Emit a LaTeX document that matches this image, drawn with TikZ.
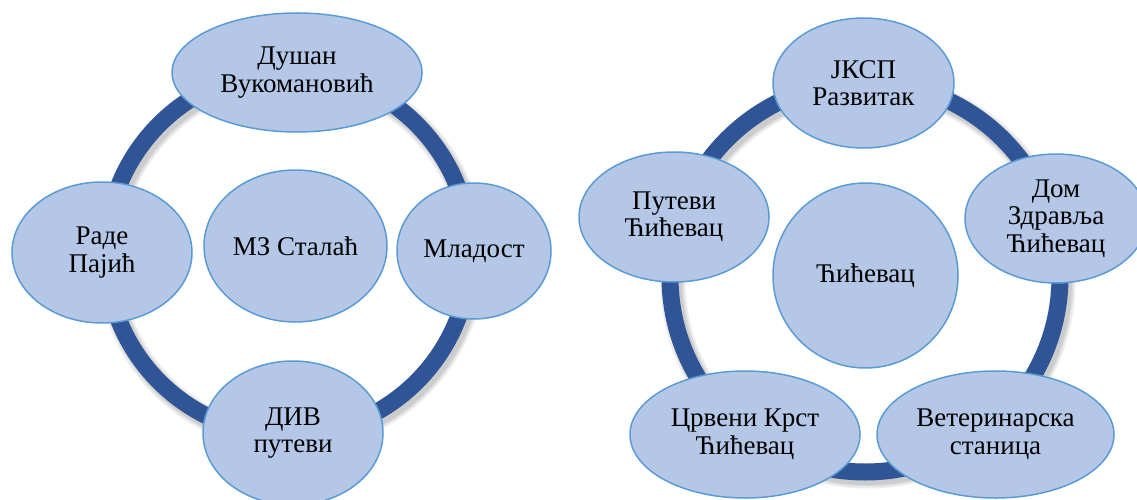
\documentclass[tikz,border=0pt]{standalone}
\usepackage{fontspec}
\setmainfont{Liberation Serif}
\usetikzlibrary{shapes.geometric}
\definecolor{ringblue}{HTML}{2F5597}
\definecolor{ellfill}{HTML}{B4C7E7}
\definecolor{elldraw}{HTML}{5B9BD5}

\begin{document}
\begin{tikzpicture}[x=1pt, y=1pt,
  ell/.style={ellipse, draw=elldraw, fill=ellfill, line width=1.5pt, inner sep=0pt,
    align=center, font=\fontsize{27}{27.5}\selectfont},
  ring/.style={draw=ringblue, line width=17pt},
  ringshadow/.style={draw=black, line width=#1, opacity=0.07}]
  \useasboundingbox (0,0) rectangle (1137,499);

  \coordinate (lc) at (288,246);
  \coordinate (rc) at (865,222);

  % rings with a soft shadow
  \foreach \w in {25,21,18} {
    \draw[ringshadow=\w pt] ([shift={(3,-4)}]lc) circle[radius=182];
    \draw[ringshadow=\w pt] ([shift={(3,-4)}]rc) circle[radius=195];
  }
  \draw[ring] (lc) circle[radius=182];
  \draw[ring] (rc) circle[radius=195];

  % left cycle
  \node[ell, minimum width=183pt, minimum height=152pt] (l0) at ([shift={(7.5,7)}]lc) {МЗ Сталаћ};
  \node[ell, minimum width=250pt, minimum height=119pt] (l1) at ([shift={(9,180.5)}]lc) {Душан\\Вукомановић};
  \node[ell, minimum width=154pt, minimum height=136pt] (l2) at ([shift={(186,2)}]lc) {Младост};
  \node[ell, minimum width=180pt, minimum height=144pt] (l3) at ([shift={(5,-180)}]lc) {ДИВ\\путеви};
  \node[ell, minimum width=180pt, minimum height=141pt] (l4) at ([shift={(-186,0.5)}]lc) {Раде\\Пајић};

  % right cycle
  \node[ell, minimum width=185pt, minimum height=185pt] (r0) at ([shift={(0.5,1.5)}]rc) {Ћићевац};
  \node[ell, minimum width=181pt, minimum height=130pt] (r1) at ([shift={(-1.5,194)}]rc) {ЈКСП\\Развитак};
  \node[ell, minimum width=182pt, minimum height=129pt] (r2) at ([shift={(191,58.5)}]rc) {Дом\\Здравља\\Ћићевац};
  \node[ell, minimum width=237pt, minimum height=127pt] (r3) at ([shift={(130.5,-157.5)}]rc) {Ветеринарска\\станица};
  \node[ell, minimum width=230pt, minimum height=127pt] (r4) at ([shift={(-120,-157.5)}]rc) {Црвени Крст\\Ћићевац};
  \node[ell, minimum width=190pt, minimum height=130pt] (r5) at ([shift={(-191,60)}]rc) {Путеви\\Ћићевац};
\end{tikzpicture}
\end{document}
